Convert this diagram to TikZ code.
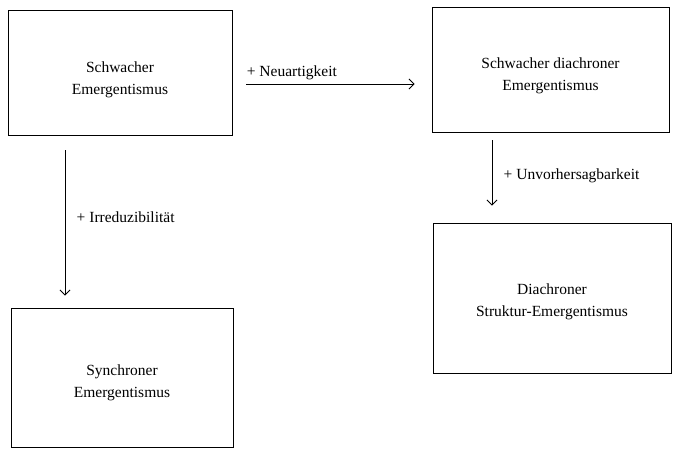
\documentclass[tikz,border=0pt]{standalone}
\usepackage{fontspec}
\setmainfont{Liberation Serif}
\usetikzlibrary{arrows.meta}
\tikzset{
  box/.style={draw,line width=0.9pt,inner sep=0pt},
  boxtext/.style={align=center,font=\fontsize{15.5}{22.5}\selectfont},
  arr/.style={line width=0.8pt,-{Straight Barb[length=5pt,width=10pt]}},
  lbl/.style={font=\fontsize{15.5}{18}\selectfont}
}
\begin{document}
\begin{tikzpicture}[x=1pt,y=-1pt]
  \useasboundingbox (0,0) rectangle (675,448);
  % the four boxes
  \node[box,minimum width=224pt,minimum height=125pt] (weak) at (120,72.5) {};
  \node[box,minimum width=237pt,minimum height=125pt] (weakdia) at (550.5,69.5) {};
  \node[box,minimum width=238pt,minimum height=150pt] (strucdia) at (552,298) {};
  \node[box,minimum width=222pt,minimum height=139pt] (sync) at (122,377.5) {};
  % their texts
  \node[boxtext] (weakT) at (120,80) {Schwacher\\Emergentismus};
  \node[boxtext] (weakdiaT) at (550.5,76) {Schwacher diachroner\\Emergentismus};
  \node[boxtext] (strucdiaT) at (552,302) {Diachroner\\Struktur-Emergentismus};
  \node[boxtext] (syncT) at (122,383) {Synchroner\\Emergentismus};
  % arrows
  \draw[arr] ([xshift=14pt,yshift=-11.5pt]weak.east) --
    node[lbl,pos=0,anchor=south west,inner xsep=0pt,inner ysep=4pt] {+ Neuartigkeit}
    ([xshift=-17pt,yshift=-14.5pt]weakdia.west);
  \draw[arr] ([xshift=-55pt,yshift=-15pt]weak.south) --
    node[lbl,pos=0.46,right,xshift=8pt] {+ Irreduzibilität}
    ([xshift=-57pt,yshift=12pt]sync.north);
  \draw[arr] ([xshift=-58.5pt,yshift=-8pt]weakdia.south) --
    node[lbl,pos=0.55,right,xshift=8pt] {+ Unvorhersagbarkeit}
    ([xshift=-60pt,yshift=17pt]strucdia.north);
\end{tikzpicture}
\end{document}
